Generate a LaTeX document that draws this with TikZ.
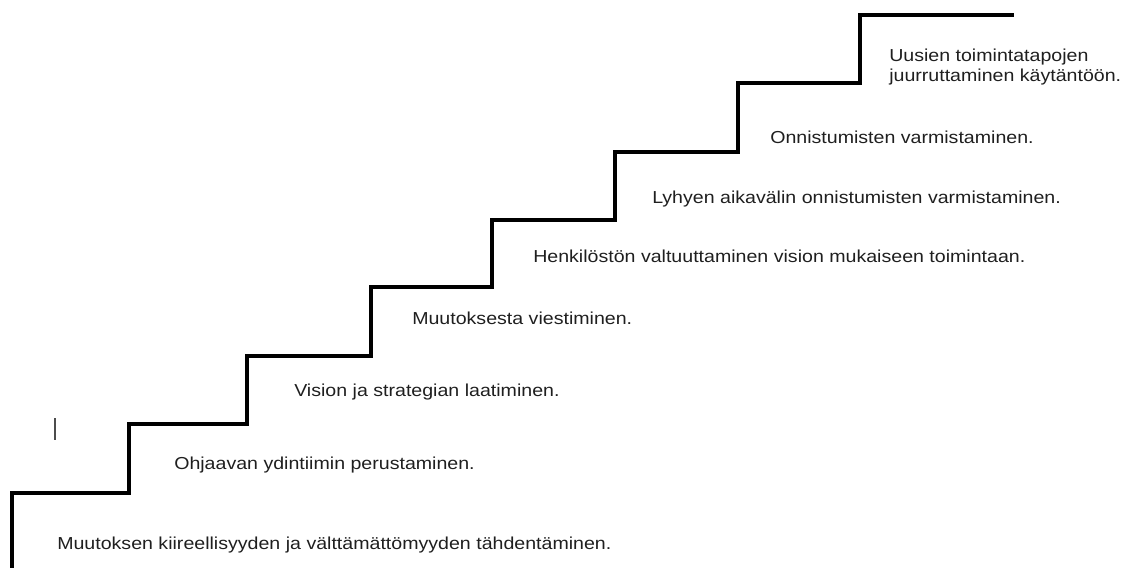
\documentclass[tikz,border=0pt]{standalone}
\usepackage{fontspec}
\setmainfont{Liberation Sans}[FakeStretch=1.13]
\begin{document}
\begin{tikzpicture}[x=0.75pt,y=-0.75pt,
  stair/.style={line width=2.4pt,black,line join=miter},
  lbl/.style={anchor=base west,inner sep=0pt,font=\fontsize{13pt}{15pt}\selectfont,text=black!88}]
\useasboundingbox (0,0) rectangle (1136,568);
\coordinate (s0) at (12,568);
\coordinate (s1) at (12,493);
\coordinate (s2) at (129,493);
\coordinate (s3) at (129,424);
\coordinate (s4) at (247,424);
\coordinate (s5) at (247,356);
\coordinate (s6) at (371,356);
\coordinate (s7) at (371,287);
\coordinate (s8) at (492,287);
\coordinate (s9) at (492,220);
\coordinate (s10) at (615,220);
\coordinate (s11) at (615,152);
\coordinate (s12) at (738,152);
\coordinate (s13) at (738,83);
\coordinate (s14) at (860,83);
\coordinate (s15) at (860,15);
\coordinate (s16) at (1014,15);
\draw[stair] (s0) -- (s1) -- (s2) -- (s3) -- (s4) -- (s5) -- (s6) -- (s7) -- (s8) -- (s9) -- (s10) -- (s11) -- (s12) -- (s13) -- (s14) -- (s15) -- (s16);
\coordinate (c1) at (55,418);
\coordinate (c2) at (55,440);
\draw[line width=0.9pt,black!70] (c1) -- (c2);
\node[lbl] (t1) at (57,549.5) {Muutoksen kiireellisyyden ja välttämättömyyden tähdentäminen.};
\node[lbl] (t2) at (174,469) {Ohjaavan ydintiimin perustaminen.};
\node[lbl] (t3) at (294,396) {Vision ja strategian laatiminen.};
\node[lbl] (t4) at (412,324) {Muutoksesta viestiminen.};
\node[lbl] (t5) at (533,262) {Henkilöstön valtuuttaminen vision mukaiseen toimintaan.};
\node[lbl] (t6) at (652,203) {Lyhyen aikavälin onnistumisten varmistaminen.};
\node[lbl] (t7) at (770,143) {Onnistumisten varmistaminen.};
\node[lbl,align=left,anchor=north west] (t8) at (889,49) {Uusien toimintatapojen\\juurruttaminen käytäntöön.};
\end{tikzpicture}
\end{document}
